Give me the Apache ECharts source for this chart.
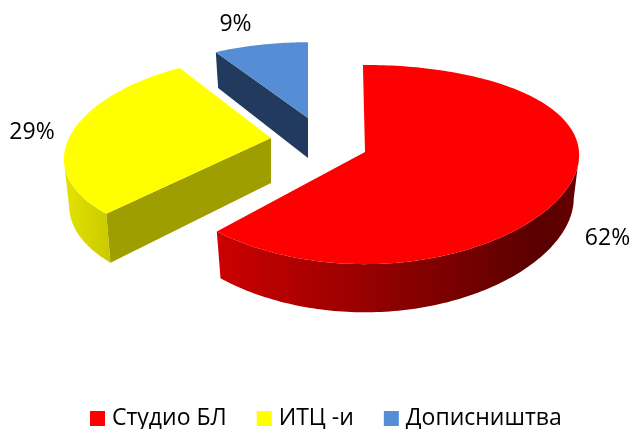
<!DOCTYPE html>
<html>
<head>
<meta charset="utf-8">
<script src="https://cdn.jsdelivr.net/npm/echarts@6/dist/echarts.min.js"></script>
<style>html,body{margin:0;padding:0;background:#fff}#c{width:634px;height:429px}</style>
</head>
<body>
<div id="c"></div>
<script>
const categories = ['Студио БЛ', 'ИТЦ -и', 'Дописништва'];
const values = [62, 29, 9];

const colors = ['#ff0000', '#ffff00', '#558ed5'];
const radialColors = ['#990000', '#9e9e00', '#223a5e'];
const wallStops = [
  [[0, '#cc0000'], [0.9, '#590000'], [1, '#660000']],
  [[0, '#e4e400'], [1, '#c8c800']],
  [[0, '#223a5e'], [1, '#223a5e']]
];
const wallRange = [[217, 578], [64, 112], [216, 308]];
const layout = [
  { ax: 365, ay: 152, a: 214, b: 98, kx: 0.03, ky: 0.126, depth: 43, rot: -0.01, lx: 607.5, ly: 238 },
  { ax: 271, ay: 138, a: 202, b: 93, kx: 0.22, ky: 0.144, depth: 45, rot: 0, lx: 32, ly: 132 },
  { ax: 308, ay: 118, a: 204, b: 93, kx: 0.22, ky: 0.228, depth: 40, rot: 0, lx: 235.5, ly: 24 }
];
const labelFont = '23px "Open Sans", "Noto Sans", sans-serif';

const total = values.reduce((s, v) => s + v, 0);
let acc = 0;
const spans = values.map(v => { const st = acc; acc += v / total * 2 * Math.PI; return [st, acc]; });

function topPoint(L, t) {
  const s = Math.sin(t + L.rot), c = -Math.cos(t + L.rot);
  return { x: L.ax + L.a * s / (1 - L.kx * c), y: L.ay + L.b * c / (1 - L.ky * c), c, s, t };
}
function xy(p) { return [p.x, p.y]; }
function low(L, p) {
  return [L.ax + (p.x - L.ax) * 0.975, p.y + L.depth * (1 + 0.12 * p.c)];
}
function arc(L, t0, t1) {
  const n = Math.max(4, Math.ceil((t1 - t0) / 0.02)), pts = [];
  for (let i = 0; i <= n; i++) pts.push(topPoint(L, t0 + (t1 - t0) * i / n));
  return pts;
}
function renderSlice(idx) {
  return function () {
    const L = layout[idx], sp = spans[idx], A = [L.ax, L.ay];
    const rim = arc(L, sp[0], sp[1]);
    const lowA = [L.ax, L.ay + L.depth];
    const first = rim[0], last = rim[rim.length - 1];
    // the front wall runs between the silhouette extremes of the whole ellipse
    const full = arc(L, 0, 2 * Math.PI);
    let hi = full[0], lo = full[0];
    full.forEach(p => { if (p.x > hi.x) hi = p; if (p.x < lo.x) lo = p; });
    const vis = rim.filter(p => p.t >= hi.t && p.t <= lo.t);
    const children = [];
    if (first.s < -0.05) children.push({ type: 'polygon', shape: { points: [A, xy(first), low(L, first), lowA] }, style: { fill: radialColors[idx] } });
    if (last.s > 0.05) children.push({ type: 'polygon', shape: { points: [A, xy(last), low(L, last), lowA] }, style: { fill: radialColors[idx] } });
    if (vis.length > 1) children.push({
      type: 'polygon', shape: { points: vis.map(xy).concat(vis.map(p => low(L, p)).reverse()) },
      style: {
        fill: {
          type: 'linear', global: true, x: wallRange[idx][0], y: 0, x2: wallRange[idx][1], y2: 0,
          colorStops: wallStops[idx].map(s => ({ offset: s[0], color: s[1] }))
        }
      }
    });
    children.push({ type: 'polygon', shape: { points: [A].concat(rim.map(xy)) }, style: { fill: colors[idx] } });
    children.push({
      type: 'text', style: {
        x: L.lx, y: L.ly, text: Math.round(values[idx] / total * 100) + '%',
        font: labelFont, fill: '#000', align: 'center', verticalAlign: 'middle'
      }
    });
    return { type: 'group', children };
  };
}

const chart = echarts.init(document.getElementById('c'), null, { renderer: 'canvas' });
chart.setOption({
  animation: false,
  legend: {
    data: categories, left: 90, top: 407, padding: 0, itemWidth: 15, itemHeight: 15, itemGap: 30, icon: 'rect',
    textStyle: { fontFamily: '"Open Sans", "Noto Sans", sans-serif', fontSize: 23, color: '#000', padding: [0, 0, 0, 2] }
  },
  series: categories.map((name, i) => ({
    type: 'custom', name, coordinateSystem: 'none',
    itemStyle: { color: colors[i] },
    data: [values[i]],
    renderItem: renderSlice(i),
    silent: true,
    z: [1, 2, 3][i]
  }))
});
</script>
</body>
</html>
